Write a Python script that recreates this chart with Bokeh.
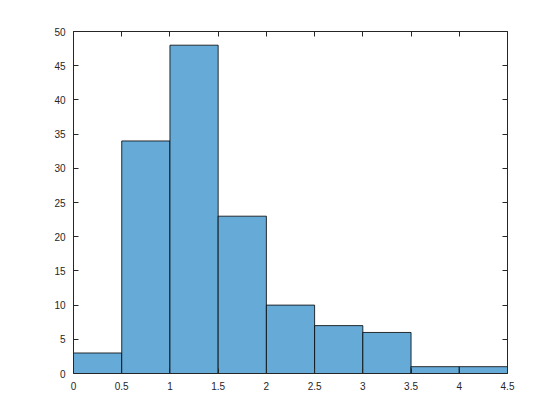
from bokeh.plotting import figure
from bokeh.models import LinearAxis, SingleIntervalTicker, Range1d, CustomJSTickFormatter
from bokeh.embed import file_html
from bokeh.resources import INLINE

edges_left = [0, 0.5, 1.0, 1.5, 2.0, 2.5, 3.0, 3.5, 4.0]
edges_right = [0.5, 1.0, 1.5, 2.0, 2.5, 3.0, 3.5, 4.0, 4.5]
counts = [3, 34, 48, 23, 10, 7, 6, 1, 1]

p = figure(width=544, height=404, output_backend="svg", toolbar_location=None,
           x_range=Range1d(0, 4.5), y_range=Range1d(0, 50),
           min_border_left=73, min_border_right=37, min_border_top=31, min_border_bottom=31,
           x_axis_location=None, y_axis_location=None)
p.outline_line_color = None
p.background_fill_color = "white"
p.border_fill_color = "white"
p.xgrid.visible = False
p.ygrid.visible = False

p.quad(left=edges_left, right=edges_right, bottom=0, top=counts,
       fill_color="#66AAD7", line_color="black", line_width=0.8)

col = "#262626"

def style(ax, labels=True):
    ax.axis_line_color = col
    ax.axis_line_width = 1
    ax.major_tick_line_color = col
    ax.major_tick_in = 5
    ax.major_tick_out = 0
    ax.minor_tick_line_color = None
    ax.major_label_text_font = "Liberation Sans"
    ax.major_label_text_font_size = "10px"
    ax.major_label_text_color = col
    ax.major_label_standoff = 4
    if not labels:
        ax.formatter = CustomJSTickFormatter(code="return ''")
        ax.major_label_standoff = 0

xb = LinearAxis(ticker=SingleIntervalTicker(interval=0.5))
style(xb)
xb.major_label_overrides = {0: "0", 1: "1", 2: "2", 3: "3", 4: "4"}
p.add_layout(xb, "below")
xt = LinearAxis(ticker=SingleIntervalTicker(interval=0.5))
style(xt, False)
p.add_layout(xt, "above")
yl = LinearAxis(ticker=SingleIntervalTicker(interval=5))
style(yl)
p.add_layout(yl, "left")
yr = LinearAxis(ticker=SingleIntervalTicker(interval=5))
style(yr, False)
p.add_layout(yr, "right")

open("out.html", "w").write(file_html(p, INLINE))
